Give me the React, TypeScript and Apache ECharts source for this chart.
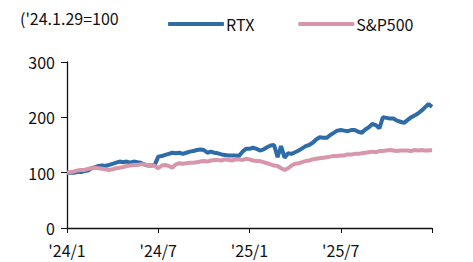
import React, { useEffect, useRef } from "react";
import * as echarts from "echarts";

const weeks: number[] = Array.from({ length: 105 }, (_, i) => i);
const xTickLabels: string[] = ["'24/1", "'24/7", "'25/1", "'25/7", ""];
const baseNote = "('24.1.29=100";
const seriesNames = ["RTX", "S&P500"];

const rtx: number[] = [
  100, 100, 100, 101, 101, 103, 104, 108, 110, 112,
  113, 112, 114, 116, 118, 120, 119, 120, 118, 120,
  119, 118, 115, 113, 113, 114, 129, 130, 132, 134,
  136, 135, 136, 134, 136, 138, 139, 141, 142, 141,
  136, 138, 136, 135, 133, 132, 131, 131, 131, 130,
  138, 143, 143, 145, 143, 140, 142, 146, 149, 150,
  128, 148, 127, 135, 134, 137, 140, 144, 148, 150,
  154, 160, 164, 163, 163, 168, 172, 176, 177, 176,
  175, 177, 177, 174, 172, 178, 182, 188, 186, 180,
  200, 199, 198, 198, 194, 192, 190, 195, 200, 203,
  207, 212, 218, 224, 219,
];

const spx: number[] = [
  100, 101, 102, 104, 105, 105, 107, 108, 109, 108,
  107, 106, 105, 106, 108, 109, 110, 112, 113, 114,
  114, 115, 115, 114, 114, 112, 108, 113, 114, 112,
  109, 115, 117, 116, 117, 118, 118, 119, 120, 121,
  120, 122, 123, 123, 122, 124, 123, 122, 124, 124,
  123, 125, 124, 122, 121, 121, 119, 117, 115, 113,
  112, 108, 105, 108, 113, 116, 117, 119, 121, 122,
  124, 125, 126, 127, 128, 129, 130, 130, 131, 131,
  133, 133, 134, 134, 135, 136, 137, 138, 137, 139,
  139, 140, 141, 140, 139, 140, 140, 140, 139, 141,
  140, 141, 140, 140, 141,
];

const FONT = "'Noto Sans CJK KR', 'Noto Sans', sans-serif";

export default function App() {
  const ref = useRef<HTMLDivElement>(null);
  useEffect(() => {
    if (!ref.current) return;
    const chart = echarts.init(ref.current, null, { renderer: "svg" });
    chart.setOption({
      animation: false,
      graphic: [
        {
          type: "text",
          left: 20,
          top: 10,
          style: { text: baseNote, font: `16px ${FONT}`, fill: "#111" },
        },
      ],
      legend: {
        left: 163,
        top: 11,
        itemGap: 44,
        itemWidth: 56,
        itemHeight: 4,
        icon: "roundRect",
        textStyle: { fontFamily: FONT, fontSize: 16, color: "#111", padding: [0, 0, 0, -3] },
        data: seriesNames,
      },
      grid: { left: 67, right: 41, top: 62, bottom: 34, containLabel: false },
      xAxis: {
        type: "value",
        min: 0,
        max: 104,
        interval: 26,
        axisLine: { lineStyle: { color: "#111", width: 1.3 } },
        axisTick: { show: true, length: 5, lineStyle: { color: "#111" } },
        axisLabel: {
          fontFamily: FONT,
          fontSize: 16,
          lineHeight: 14,
          color: "#111",
          margin: 15,
          formatter: (v: number) => xTickLabels[Math.round(v / 26)] ?? "",
        },
        splitLine: { show: false },
      },
      yAxis: {
        type: "value",
        min: 0,
        max: 300,
        interval: 100,
        axisLine: { show: true, lineStyle: { color: "#111", width: 1.3 } },
        axisTick: { show: true, length: 6, lineStyle: { color: "#111" } },
        axisLabel: { fontFamily: FONT, fontSize: 16, lineHeight: 12, color: "#111", margin: 12 },
        splitLine: { show: false },
      },
      series: [
        {
          name: seriesNames[0],
          type: "line",
          data: weeks.map((w, i) => [w, rtx[i]]),
          showSymbol: false,
          lineStyle: { color: "#2d6ca6", width: 4 },
          itemStyle: { color: "#2d6ca6" },
          z: 3,
        },
        {
          name: seriesNames[1],
          type: "line",
          data: weeks.map((w, i) => [w, spx[i]]),
          showSymbol: false,
          lineStyle: { color: "#d896ab", width: 4 },
          itemStyle: { color: "#d896ab" },
          z: 4,
        },
      ],
    });
    return () => chart.dispose();
  }, []);
  return <div ref={ref} style={{ width: 473, height: 262, position: "absolute", left: 0, top: 0 }} />;
}
